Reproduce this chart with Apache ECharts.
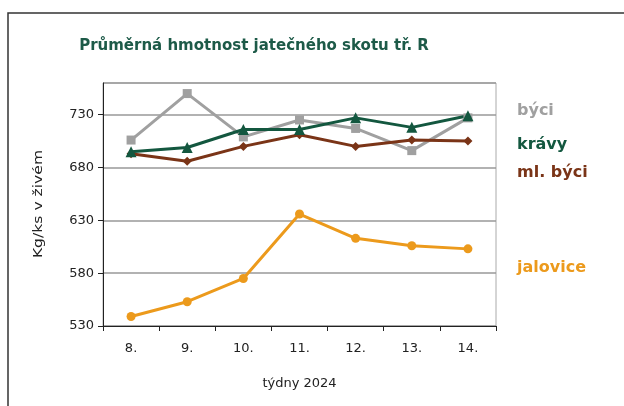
<!DOCTYPE html>
<html><head><meta charset="utf-8">
<script src="https://cdn.jsdelivr.net/npm/echarts@6/dist/echarts.min.js"></script>
<style>html,body{margin:0;padding:0;background:#fff}#c{width:624px;height:406px}</style>
</head><body><div id="c"></div>
<script>
var weeks = ['8.', '9.', '10.', '11.', '12.', '13.', '14.'];
var byci = [706, 750, 709, 725, 717, 696, 727];
var kravy = [695, 699, 716, 716, 727, 718, 729];
var mlByci = [693, 686, 700, 711, 700, 706, 705];
var jalovice = [539, 553, 575, 636, 613, 606, 603];
var seriesNames = ['býci', 'krávy', 'ml. býci', 'jalovice'];
var yTicks = [530, 580, 630, 680, 730];

var font = 'DejaVu Sans';
var colors = ['#a0a0a0', '#13573f', '#7a3417', '#ec9a1c'];
var chart = echarts.init(document.getElementById('c'));
function mk(name, data, color, symbol, size) {
  return {
    name: name, type: 'line', data: data, symbol: symbol, symbolSize: size,
    lineStyle: { color: color, width: 3 }, itemStyle: { color: color },
    animation: false
  };
}
function lbl(i, y) {
  return { type: 'text', x: 517, y: y, style: { text: seriesNames[i], fill: colors[i], font: 'bold 16px "DejaVu Sans"', verticalAlign: 'middle' } };
}
chart.setOption({
  animation: false,
  title: {
    text: 'Průměrná hmotnost jatečného skotu tř. R',
    left: 249, top: 34, textAlign: 'center',
    textStyle: { fontFamily: font, fontWeight: 'bold', fontSize: 15, color: '#1d5a48' }
  },
  grid: { left: 103, right: 128, top: 83, bottom: 80, show: true, borderColor: '#aaa', borderWidth: 1 },
  xAxis: {
    type: 'category', data: weeks, boundaryGap: true,
    name: 'týdny 2024', nameLocation: 'middle', nameGap: 51,
    nameTextStyle: { fontFamily: font, fontSize: 13, color: '#222' },
    axisLine: { lineStyle: { color: '#222', width: 1 } },
    axisTick: { show: true, length: 5, lineStyle: { color: '#222' } },
    axisLabel: { fontFamily: font, fontSize: 13, color: '#222', margin: 16 }
  },
  yAxis: {
    type: 'value', min: 530, max: 760, interval: 50,
    axisLine: { show: true, lineStyle: { color: '#222', width: 1 } },
    axisTick: { show: true, length: 5, lineStyle: { color: '#222' } },
    axisLabel: { fontFamily: font, fontSize: 13, color: '#222', margin: 9, showMaxLabel: false,
      formatter: function (v) { return yTicks.indexOf(v) >= 0 ? String(v) : ''; } },
    splitLine: { show: true, lineStyle: { color: '#999', width: 1.5 } }
  },
  series: [
    mk(seriesNames[0], byci, colors[0], 'rect', 9),
    mk(seriesNames[2], mlByci, colors[2], 'diamond', 9),
    mk(seriesNames[1], kravy, colors[1], 'triangle', 11),
    mk(seriesNames[3], jalovice, colors[3], 'circle', 9)
  ],
  graphic: [
    { type: 'rect', shape: { x: 8, y: 13, width: 700, height: 500 }, style: { fill: 'none', stroke: '#333', lineWidth: 1.5 }, silent: true },
    { type: 'text', x: 39, y: 204, rotation: Math.PI / 2, scaleX: 1.3,
      style: { text: 'Kg/ks v živém', fill: '#222', font: '12px "DejaVu Sans"', align: 'center', verticalAlign: 'middle' } },
    lbl(0, 111), lbl(1, 145), lbl(2, 173), lbl(3, 268)
  ]
});
</script></body></html>
